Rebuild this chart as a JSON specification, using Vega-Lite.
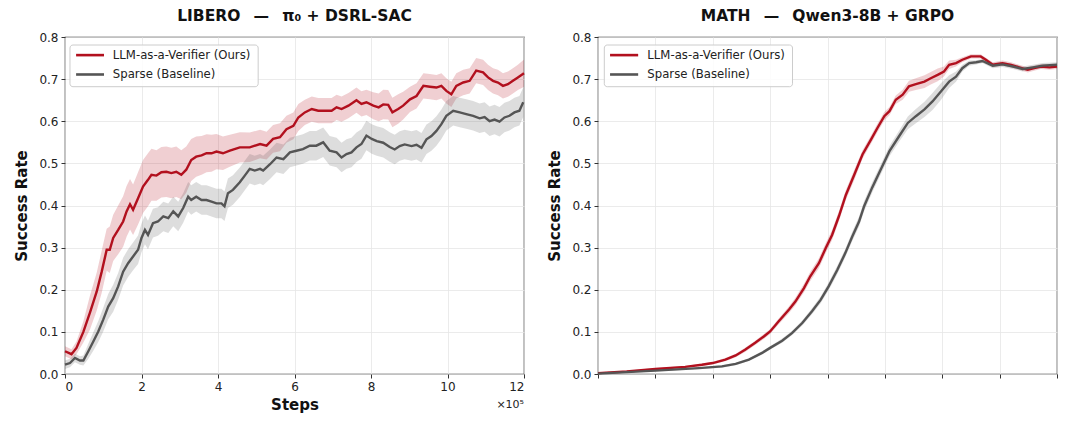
{
  "$schema": "https://vega.github.io/schema/vega-lite/v6.json",
  "padding": {"left": 14, "top": 7, "right": 5, "bottom": 5},
  "background": "white",
  "config": {
    "font": "DejaVu Sans",
    "view": {"stroke": "#333333", "strokeWidth": 1.2},
    "axis": {"domain": false, "grid": true, "gridColor": "#e6e6e6", "gridWidth": 0.8, "tickColor": "#333333", "tickSize": 4, "tickWidth": 1, "labelFontSize": 12, "labelColor": "#222222", "labelPadding": 3, "titleFontSize": 15, "titleFontWeight": "bold", "titleColor": "#111111"},
    "title": {"fontSize": 15.5, "fontWeight": "bold", "color": "#111111", "offset": 7}
  },
  "datasets": {
    "libero": [
      {"s":"ours","x":0,"y":0.054,"lo":0.042,"hi":0.066},
      {"s":"ours","x":0.17,"y":0.047,"lo":0.035,"hi":0.059},
      {"s":"ours","x":0.3,"y":0.062,"lo":0.047,"hi":0.077},
      {"s":"ours","x":0.48,"y":0.1,"lo":0.075,"hi":0.125},
      {"s":"ours","x":0.65,"y":0.145,"lo":0.105,"hi":0.185},
      {"s":"ours","x":0.83,"y":0.196,"lo":0.151,"hi":0.241},
      {"s":"ours","x":0.96,"y":0.243,"lo":0.193,"hi":0.293},
      {"s":"ours","x":1.09,"y":0.295,"lo":0.245,"hi":0.345},
      {"s":"ours","x":1.17,"y":0.295,"lo":0.24,"hi":0.35},
      {"s":"ours","x":1.26,"y":0.323,"lo":0.268,"hi":0.378},
      {"s":"ours","x":1.39,"y":0.342,"lo":0.284,"hi":0.4},
      {"s":"ours","x":1.52,"y":0.362,"lo":0.302,"hi":0.422},
      {"s":"ours","x":1.61,"y":0.386,"lo":0.326,"hi":0.446},
      {"s":"ours","x":1.7,"y":0.403,"lo":0.343,"hi":0.463},
      {"s":"ours","x":1.78,"y":0.39,"lo":0.33,"hi":0.45},
      {"s":"ours","x":1.91,"y":0.417,"lo":0.355,"hi":0.479},
      {"s":"ours","x":2.04,"y":0.445,"lo":0.382,"hi":0.508},
      {"s":"ours","x":2.17,"y":0.461,"lo":0.398,"hi":0.524},
      {"s":"ours","x":2.26,"y":0.473,"lo":0.411,"hi":0.535},
      {"s":"ours","x":2.39,"y":0.471,"lo":0.411,"hi":0.531},
      {"s":"ours","x":2.52,"y":0.479,"lo":0.419,"hi":0.539},
      {"s":"ours","x":2.65,"y":0.48,"lo":0.42,"hi":0.54},
      {"s":"ours","x":2.78,"y":0.477,"lo":0.417,"hi":0.537},
      {"s":"ours","x":2.91,"y":0.48,"lo":0.42,"hi":0.54},
      {"s":"ours","x":3.04,"y":0.473,"lo":0.415,"hi":0.531},
      {"s":"ours","x":3.17,"y":0.485,"lo":0.43,"hi":0.54},
      {"s":"ours","x":3.3,"y":0.508,"lo":0.458,"hi":0.558},
      {"s":"ours","x":3.43,"y":0.516,"lo":0.468,"hi":0.564},
      {"s":"ours","x":3.57,"y":0.519,"lo":0.473,"hi":0.565},
      {"s":"ours","x":3.7,"y":0.524,"lo":0.479,"hi":0.569},
      {"s":"ours","x":3.83,"y":0.524,"lo":0.48,"hi":0.568},
      {"s":"ours","x":3.96,"y":0.528,"lo":0.486,"hi":0.57},
      {"s":"ours","x":4.13,"y":0.524,"lo":0.484,"hi":0.564},
      {"s":"ours","x":4.31,"y":0.53,"lo":0.492,"hi":0.568},
      {"s":"ours","x":4.57,"y":0.538,"lo":0.502,"hi":0.574},
      {"s":"ours","x":4.83,"y":0.538,"lo":0.503,"hi":0.573},
      {"s":"ours","x":5.1,"y":0.546,"lo":0.512,"hi":0.58},
      {"s":"ours","x":5.27,"y":0.542,"lo":0.509,"hi":0.575},
      {"s":"ours","x":5.44,"y":0.558,"lo":0.525,"hi":0.591},
      {"s":"ours","x":5.62,"y":0.562,"lo":0.529,"hi":0.595},
      {"s":"ours","x":5.79,"y":0.581,"lo":0.549,"hi":0.613},
      {"s":"ours","x":5.97,"y":0.589,"lo":0.557,"hi":0.621},
      {"s":"ours","x":6.1,"y":0.609,"lo":0.577,"hi":0.641},
      {"s":"ours","x":6.27,"y":0.621,"lo":0.591,"hi":0.651},
      {"s":"ours","x":6.45,"y":0.629,"lo":0.599,"hi":0.659},
      {"s":"ours","x":6.62,"y":0.625,"lo":0.595,"hi":0.655},
      {"s":"ours","x":6.79,"y":0.625,"lo":0.595,"hi":0.655},
      {"s":"ours","x":6.97,"y":0.625,"lo":0.595,"hi":0.655},
      {"s":"ours","x":7.1,"y":0.633,"lo":0.603,"hi":0.663},
      {"s":"ours","x":7.23,"y":0.629,"lo":0.599,"hi":0.659},
      {"s":"ours","x":7.41,"y":0.637,"lo":0.607,"hi":0.667},
      {"s":"ours","x":7.62,"y":0.65,"lo":0.62,"hi":0.68},
      {"s":"ours","x":7.75,"y":0.641,"lo":0.611,"hi":0.671},
      {"s":"ours","x":7.88,"y":0.645,"lo":0.615,"hi":0.675},
      {"s":"ours","x":8.06,"y":0.637,"lo":0.605,"hi":0.669},
      {"s":"ours","x":8.2,"y":0.633,"lo":0.6,"hi":0.666},
      {"s":"ours","x":8.32,"y":0.64,"lo":0.605,"hi":0.675},
      {"s":"ours","x":8.45,"y":0.639,"lo":0.604,"hi":0.674},
      {"s":"ours","x":8.56,"y":0.621,"lo":0.586,"hi":0.656},
      {"s":"ours","x":8.71,"y":0.629,"lo":0.594,"hi":0.664},
      {"s":"ours","x":8.84,"y":0.637,"lo":0.604,"hi":0.67},
      {"s":"ours","x":9.02,"y":0.652,"lo":0.622,"hi":0.682},
      {"s":"ours","x":9.19,"y":0.66,"lo":0.63,"hi":0.69},
      {"s":"ours","x":9.37,"y":0.684,"lo":0.654,"hi":0.714},
      {"s":"ours","x":9.54,"y":0.682,"lo":0.652,"hi":0.712},
      {"s":"ours","x":9.71,"y":0.68,"lo":0.65,"hi":0.71},
      {"s":"ours","x":9.84,"y":0.684,"lo":0.654,"hi":0.714},
      {"s":"ours","x":9.97,"y":0.672,"lo":0.642,"hi":0.702},
      {"s":"ours","x":10.1,"y":0.664,"lo":0.634,"hi":0.694},
      {"s":"ours","x":10.23,"y":0.684,"lo":0.654,"hi":0.714},
      {"s":"ours","x":10.41,"y":0.692,"lo":0.662,"hi":0.722},
      {"s":"ours","x":10.58,"y":0.696,"lo":0.666,"hi":0.726},
      {"s":"ours","x":10.75,"y":0.72,"lo":0.69,"hi":0.75},
      {"s":"ours","x":10.93,"y":0.716,"lo":0.686,"hi":0.746},
      {"s":"ours","x":11.06,"y":0.704,"lo":0.674,"hi":0.734},
      {"s":"ours","x":11.19,"y":0.696,"lo":0.666,"hi":0.726},
      {"s":"ours","x":11.32,"y":0.692,"lo":0.662,"hi":0.722},
      {"s":"ours","x":11.45,"y":0.684,"lo":0.654,"hi":0.714},
      {"s":"ours","x":11.58,"y":0.688,"lo":0.658,"hi":0.718},
      {"s":"ours","x":11.71,"y":0.696,"lo":0.666,"hi":0.726},
      {"s":"ours","x":11.84,"y":0.704,"lo":0.674,"hi":0.734},
      {"s":"ours","x":11.97,"y":0.712,"lo":0.68,"hi":0.744},
      {"s":"ours","x":12,"y":0.714,"lo":0.682,"hi":0.746},
      {"s":"base","x":0,"y":0.022,"lo":0.012,"hi":0.032},
      {"s":"base","x":0.13,"y":0.026,"lo":0.016,"hi":0.036},
      {"s":"base","x":0.26,"y":0.038,"lo":0.028,"hi":0.048},
      {"s":"base","x":0.39,"y":0.032,"lo":0.022,"hi":0.042},
      {"s":"base","x":0.48,"y":0.032,"lo":0.02,"hi":0.044},
      {"s":"base","x":0.61,"y":0.054,"lo":0.036,"hi":0.072},
      {"s":"base","x":0.74,"y":0.077,"lo":0.055,"hi":0.099},
      {"s":"base","x":0.87,"y":0.101,"lo":0.076,"hi":0.126},
      {"s":"base","x":1,"y":0.129,"lo":0.101,"hi":0.157},
      {"s":"base","x":1.13,"y":0.16,"lo":0.13,"hi":0.19},
      {"s":"base","x":1.26,"y":0.18,"lo":0.148,"hi":0.212},
      {"s":"base","x":1.39,"y":0.208,"lo":0.176,"hi":0.24},
      {"s":"base","x":1.52,"y":0.243,"lo":0.21,"hi":0.276},
      {"s":"base","x":1.65,"y":0.263,"lo":0.23,"hi":0.296},
      {"s":"base","x":1.78,"y":0.279,"lo":0.246,"hi":0.312},
      {"s":"base","x":1.91,"y":0.295,"lo":0.261,"hi":0.329},
      {"s":"base","x":2,"y":0.323,"lo":0.289,"hi":0.357},
      {"s":"base","x":2.09,"y":0.342,"lo":0.308,"hi":0.376},
      {"s":"base","x":2.17,"y":0.33,"lo":0.296,"hi":0.364},
      {"s":"base","x":2.3,"y":0.358,"lo":0.324,"hi":0.392},
      {"s":"base","x":2.43,"y":0.362,"lo":0.328,"hi":0.396},
      {"s":"base","x":2.57,"y":0.374,"lo":0.339,"hi":0.409},
      {"s":"base","x":2.7,"y":0.37,"lo":0.335,"hi":0.405},
      {"s":"base","x":2.83,"y":0.386,"lo":0.351,"hi":0.421},
      {"s":"base","x":2.96,"y":0.374,"lo":0.339,"hi":0.409},
      {"s":"base","x":3.09,"y":0.394,"lo":0.359,"hi":0.429},
      {"s":"base","x":3.22,"y":0.421,"lo":0.386,"hi":0.456},
      {"s":"base","x":3.3,"y":0.413,"lo":0.378,"hi":0.448},
      {"s":"base","x":3.43,"y":0.421,"lo":0.386,"hi":0.456},
      {"s":"base","x":3.57,"y":0.413,"lo":0.378,"hi":0.448},
      {"s":"base","x":3.7,"y":0.413,"lo":0.378,"hi":0.448},
      {"s":"base","x":3.83,"y":0.409,"lo":0.374,"hi":0.444},
      {"s":"base","x":3.96,"y":0.405,"lo":0.37,"hi":0.44},
      {"s":"base","x":4.09,"y":0.405,"lo":0.37,"hi":0.44},
      {"s":"base","x":4.17,"y":0.398,"lo":0.363,"hi":0.433},
      {"s":"base","x":4.26,"y":0.429,"lo":0.394,"hi":0.464},
      {"s":"base","x":4.39,"y":0.437,"lo":0.402,"hi":0.472},
      {"s":"base","x":4.57,"y":0.455,"lo":0.42,"hi":0.49},
      {"s":"base","x":4.7,"y":0.471,"lo":0.436,"hi":0.506},
      {"s":"base","x":4.83,"y":0.487,"lo":0.452,"hi":0.522},
      {"s":"base","x":4.96,"y":0.483,"lo":0.448,"hi":0.518},
      {"s":"base","x":5.1,"y":0.487,"lo":0.452,"hi":0.522},
      {"s":"base","x":5.18,"y":0.483,"lo":0.448,"hi":0.518},
      {"s":"base","x":5.36,"y":0.498,"lo":0.463,"hi":0.533},
      {"s":"base","x":5.53,"y":0.514,"lo":0.479,"hi":0.549},
      {"s":"base","x":5.71,"y":0.51,"lo":0.475,"hi":0.545},
      {"s":"base","x":5.88,"y":0.526,"lo":0.491,"hi":0.561},
      {"s":"base","x":6.05,"y":0.53,"lo":0.495,"hi":0.565},
      {"s":"base","x":6.22,"y":0.534,"lo":0.499,"hi":0.569},
      {"s":"base","x":6.4,"y":0.542,"lo":0.507,"hi":0.577},
      {"s":"base","x":6.57,"y":0.542,"lo":0.507,"hi":0.577},
      {"s":"base","x":6.75,"y":0.55,"lo":0.515,"hi":0.585},
      {"s":"base","x":6.92,"y":0.53,"lo":0.495,"hi":0.565},
      {"s":"base","x":7.1,"y":0.526,"lo":0.491,"hi":0.561},
      {"s":"base","x":7.23,"y":0.514,"lo":0.479,"hi":0.549},
      {"s":"base","x":7.36,"y":0.522,"lo":0.487,"hi":0.557},
      {"s":"base","x":7.49,"y":0.526,"lo":0.491,"hi":0.561},
      {"s":"base","x":7.62,"y":0.538,"lo":0.503,"hi":0.573},
      {"s":"base","x":7.75,"y":0.546,"lo":0.511,"hi":0.581},
      {"s":"base","x":7.88,"y":0.566,"lo":0.531,"hi":0.601},
      {"s":"base","x":8.02,"y":0.558,"lo":0.523,"hi":0.593},
      {"s":"base","x":8.15,"y":0.553,"lo":0.518,"hi":0.588},
      {"s":"base","x":8.32,"y":0.549,"lo":0.514,"hi":0.584},
      {"s":"base","x":8.49,"y":0.539,"lo":0.504,"hi":0.574},
      {"s":"base","x":8.62,"y":0.533,"lo":0.498,"hi":0.568},
      {"s":"base","x":8.75,"y":0.541,"lo":0.506,"hi":0.576},
      {"s":"base","x":8.88,"y":0.545,"lo":0.51,"hi":0.58},
      {"s":"base","x":9.06,"y":0.541,"lo":0.506,"hi":0.576},
      {"s":"base","x":9.19,"y":0.544,"lo":0.509,"hi":0.579},
      {"s":"base","x":9.32,"y":0.537,"lo":0.502,"hi":0.572},
      {"s":"base","x":9.45,"y":0.557,"lo":0.522,"hi":0.592},
      {"s":"base","x":9.58,"y":0.565,"lo":0.53,"hi":0.6},
      {"s":"base","x":9.71,"y":0.577,"lo":0.542,"hi":0.612},
      {"s":"base","x":9.84,"y":0.593,"lo":0.558,"hi":0.628},
      {"s":"base","x":9.97,"y":0.613,"lo":0.578,"hi":0.648},
      {"s":"base","x":10.15,"y":0.625,"lo":0.59,"hi":0.66},
      {"s":"base","x":10.32,"y":0.621,"lo":0.586,"hi":0.656},
      {"s":"base","x":10.49,"y":0.617,"lo":0.582,"hi":0.652},
      {"s":"base","x":10.67,"y":0.613,"lo":0.578,"hi":0.648},
      {"s":"base","x":10.84,"y":0.607,"lo":0.572,"hi":0.642},
      {"s":"base","x":10.97,"y":0.61,"lo":0.575,"hi":0.645},
      {"s":"base","x":11.1,"y":0.6,"lo":0.565,"hi":0.635},
      {"s":"base","x":11.23,"y":0.604,"lo":0.569,"hi":0.639},
      {"s":"base","x":11.36,"y":0.599,"lo":0.564,"hi":0.634},
      {"s":"base","x":11.49,"y":0.609,"lo":0.574,"hi":0.644},
      {"s":"base","x":11.62,"y":0.613,"lo":0.578,"hi":0.648},
      {"s":"base","x":11.75,"y":0.621,"lo":0.586,"hi":0.656},
      {"s":"base","x":11.88,"y":0.625,"lo":0.59,"hi":0.66},
      {"s":"base","x":11.98,"y":0.645,"lo":0.61,"hi":0.68}
    ],
    "math": [
      {"s":"ours","x":0,"y":0.002,"lo":0,"hi":0.004},
      {"s":"ours","x":0.5,"y":0.006,"lo":0.004,"hi":0.008},
      {"s":"ours","x":1,"y":0.012,"lo":0.01,"hi":0.014},
      {"s":"ours","x":1.52,"y":0.017,"lo":0.015,"hi":0.019},
      {"s":"ours","x":1.81,"y":0.022,"lo":0.019,"hi":0.025},
      {"s":"ours","x":2,"y":0.026,"lo":0.023,"hi":0.029},
      {"s":"ours","x":2.22,"y":0.034,"lo":0.03,"hi":0.038},
      {"s":"ours","x":2.4,"y":0.044,"lo":0.04,"hi":0.048},
      {"s":"ours","x":2.57,"y":0.058,"lo":0.053,"hi":0.063},
      {"s":"ours","x":2.74,"y":0.074,"lo":0.069,"hi":0.079},
      {"s":"ours","x":2.89,"y":0.089,"lo":0.083,"hi":0.095},
      {"s":"ours","x":3,"y":0.101,"lo":0.095,"hi":0.107},
      {"s":"ours","x":3.15,"y":0.125,"lo":0.118,"hi":0.132},
      {"s":"ours","x":3.33,"y":0.153,"lo":0.145,"hi":0.161},
      {"s":"ours","x":3.44,"y":0.172,"lo":0.163,"hi":0.181},
      {"s":"ours","x":3.59,"y":0.204,"lo":0.194,"hi":0.214},
      {"s":"ours","x":3.7,"y":0.232,"lo":0.221,"hi":0.243},
      {"s":"ours","x":3.85,"y":0.263,"lo":0.251,"hi":0.275},
      {"s":"ours","x":3.97,"y":0.299,"lo":0.287,"hi":0.311},
      {"s":"ours","x":4.08,"y":0.33,"lo":0.318,"hi":0.342},
      {"s":"ours","x":4.2,"y":0.375,"lo":0.363,"hi":0.387},
      {"s":"ours","x":4.32,"y":0.425,"lo":0.413,"hi":0.437},
      {"s":"ours","x":4.47,"y":0.474,"lo":0.462,"hi":0.486},
      {"s":"ours","x":4.61,"y":0.521,"lo":0.511,"hi":0.531},
      {"s":"ours","x":4.76,"y":0.557,"lo":0.547,"hi":0.567},
      {"s":"ours","x":4.87,"y":0.584,"lo":0.574,"hi":0.594},
      {"s":"ours","x":4.99,"y":0.612,"lo":0.602,"hi":0.622},
      {"s":"ours","x":5.08,"y":0.624,"lo":0.614,"hi":0.634},
      {"s":"ours","x":5.19,"y":0.651,"lo":0.641,"hi":0.661},
      {"s":"ours","x":5.31,"y":0.663,"lo":0.651,"hi":0.675},
      {"s":"ours","x":5.42,"y":0.683,"lo":0.67,"hi":0.696},
      {"s":"ours","x":5.54,"y":0.688,"lo":0.674,"hi":0.702},
      {"s":"ours","x":5.69,"y":0.694,"lo":0.679,"hi":0.709},
      {"s":"ours","x":5.8,"y":0.702,"lo":0.687,"hi":0.717},
      {"s":"ours","x":5.92,"y":0.71,"lo":0.695,"hi":0.725},
      {"s":"ours","x":6.03,"y":0.718,"lo":0.706,"hi":0.73},
      {"s":"ours","x":6.12,"y":0.734,"lo":0.724,"hi":0.744},
      {"s":"ours","x":6.24,"y":0.738,"lo":0.73,"hi":0.746},
      {"s":"ours","x":6.35,"y":0.746,"lo":0.74,"hi":0.752},
      {"s":"ours","x":6.5,"y":0.754,"lo":0.749,"hi":0.759},
      {"s":"ours","x":6.67,"y":0.754,"lo":0.749,"hi":0.759},
      {"s":"ours","x":6.76,"y":0.746,"lo":0.741,"hi":0.751},
      {"s":"ours","x":6.88,"y":0.734,"lo":0.728,"hi":0.74},
      {"s":"ours","x":7.05,"y":0.738,"lo":0.732,"hi":0.744},
      {"s":"ours","x":7.2,"y":0.734,"lo":0.728,"hi":0.74},
      {"s":"ours","x":7.34,"y":0.728,"lo":0.722,"hi":0.734},
      {"s":"ours","x":7.49,"y":0.722,"lo":0.716,"hi":0.728},
      {"s":"ours","x":7.6,"y":0.726,"lo":0.72,"hi":0.732},
      {"s":"ours","x":7.72,"y":0.73,"lo":0.724,"hi":0.736},
      {"s":"ours","x":7.87,"y":0.728,"lo":0.722,"hi":0.734},
      {"s":"ours","x":8,"y":0.73,"lo":0.724,"hi":0.736},
      {"s":"base","x":0,"y":0.001,"lo":0,"hi":0.002},
      {"s":"base","x":1,"y":0.008,"lo":0.006,"hi":0.01},
      {"s":"base","x":1.76,"y":0.014,"lo":0.012,"hi":0.016},
      {"s":"base","x":2.16,"y":0.018,"lo":0.015,"hi":0.021},
      {"s":"base","x":2.4,"y":0.024,"lo":0.021,"hi":0.027},
      {"s":"base","x":2.63,"y":0.034,"lo":0.031,"hi":0.037},
      {"s":"base","x":2.86,"y":0.05,"lo":0.046,"hi":0.054},
      {"s":"base","x":3,"y":0.062,"lo":0.058,"hi":0.066},
      {"s":"base","x":3.21,"y":0.079,"lo":0.074,"hi":0.084},
      {"s":"base","x":3.38,"y":0.097,"lo":0.092,"hi":0.102},
      {"s":"base","x":3.56,"y":0.121,"lo":0.115,"hi":0.127},
      {"s":"base","x":3.73,"y":0.149,"lo":0.142,"hi":0.156},
      {"s":"base","x":3.88,"y":0.176,"lo":0.168,"hi":0.184},
      {"s":"base","x":4.02,"y":0.208,"lo":0.199,"hi":0.217},
      {"s":"base","x":4.17,"y":0.247,"lo":0.237,"hi":0.257},
      {"s":"base","x":4.31,"y":0.287,"lo":0.277,"hi":0.297},
      {"s":"base","x":4.43,"y":0.326,"lo":0.315,"hi":0.337},
      {"s":"base","x":4.55,"y":0.362,"lo":0.35,"hi":0.374},
      {"s":"base","x":4.64,"y":0.399,"lo":0.387,"hi":0.411},
      {"s":"base","x":4.78,"y":0.443,"lo":0.431,"hi":0.455},
      {"s":"base","x":4.93,"y":0.486,"lo":0.474,"hi":0.498},
      {"s":"base","x":5.08,"y":0.529,"lo":0.517,"hi":0.541},
      {"s":"base","x":5.25,"y":0.565,"lo":0.552,"hi":0.578},
      {"s":"base","x":5.4,"y":0.596,"lo":0.581,"hi":0.611},
      {"s":"base","x":5.54,"y":0.612,"lo":0.595,"hi":0.629},
      {"s":"base","x":5.69,"y":0.628,"lo":0.61,"hi":0.646},
      {"s":"base","x":5.83,"y":0.647,"lo":0.627,"hi":0.667},
      {"s":"base","x":5.98,"y":0.671,"lo":0.651,"hi":0.691},
      {"s":"base","x":6.12,"y":0.694,"lo":0.679,"hi":0.709},
      {"s":"base","x":6.24,"y":0.706,"lo":0.694,"hi":0.718},
      {"s":"base","x":6.35,"y":0.726,"lo":0.718,"hi":0.734},
      {"s":"base","x":6.47,"y":0.738,"lo":0.732,"hi":0.744},
      {"s":"base","x":6.59,"y":0.74,"lo":0.735,"hi":0.745},
      {"s":"base","x":6.7,"y":0.743,"lo":0.738,"hi":0.748},
      {"s":"base","x":6.88,"y":0.732,"lo":0.726,"hi":0.738},
      {"s":"base","x":7.05,"y":0.735,"lo":0.729,"hi":0.741},
      {"s":"base","x":7.23,"y":0.73,"lo":0.724,"hi":0.736},
      {"s":"base","x":7.4,"y":0.724,"lo":0.718,"hi":0.73},
      {"s":"base","x":7.58,"y":0.728,"lo":0.722,"hi":0.734},
      {"s":"base","x":7.75,"y":0.732,"lo":0.726,"hi":0.738},
      {"s":"base","x":8,"y":0.734,"lo":0.728,"hi":0.74}
    ]
  },
  "spacing": 17,
  "hconcat": [
    {
      "width": 459,
      "height": 337,
      "title": {"text": "LIBERO \u2002—\u2002 π₀ + DSRL-SAC"},
      "layer": [
        {
          "data": {"name": "libero"},
          "mark": {"type": "area", "opacity": 0.2},
          "encoding": {
            "x": {"field": "x", "type": "quantitative", "scale": {"domain": [0, 12], "nice": false}, "axis": {"values": [0, 2, 4, 6, 8, 10, 12], "format": "d", "title": "Steps", "titlePadding": 5}},
            "y": {"field": "lo", "type": "quantitative", "scale": {"domain": [0, 0.8], "nice": false}, "axis": {"values": [0, 0.1, 0.2, 0.3, 0.4, 0.5, 0.6, 0.7, 0.8], "format": ".1f", "title": "Success Rate", "titlePadding": 9}},
            "y2": {"field": "hi"},
            "fill": {"field": "s", "type": "nominal", "scale": {"domain": ["ours", "base"], "range": ["#b2101e", "#555555"]}, "legend": null}
          }
        },
        {
          "data": {"name": "libero"},
          "mark": {"type": "line", "strokeWidth": 2.4},
          "encoding": {
            "x": {"field": "x", "type": "quantitative"},
            "y": {"field": "y", "type": "quantitative"},
            "stroke": {"field": "s", "type": "nominal", "scale": {"domain": ["ours", "base"], "range": ["#b2101e", "#555555"]}, "legend": null}
          }
        },
        {
          "data": {"values": [{"part": "legend frame"}]},
          "mark": {"type": "rect", "fill": "white", "fillOpacity": 0.85, "stroke": "#cccccc", "strokeWidth": 1, "cornerRadius": 3},
          "encoding": {"x": {"datum": 0.13}, "x2": {"datum": 5.05}, "y": {"datum": 0.682}, "y2": {"datum": 0.781}}
        },
        {
          "data": {"values": [{"s": "ours"}]},
          "mark": {"type": "rule", "strokeWidth": 2.6, "color": "#b2101e"},
          "encoding": {"x": {"datum": 0.29}, "x2": {"datum": 1.02}, "y": {"datum": 0.757}}
        },
        {
          "data": {"values": [{"s": "base"}]},
          "mark": {"type": "rule", "strokeWidth": 2.6, "color": "#555555"},
          "encoding": {"x": {"datum": 0.29}, "x2": {"datum": 1.02}, "y": {"datum": 0.711}}
        },
        {
          "data": {"values": [{"label": "LLM-as-a-Verifier (Ours)"}]},
          "mark": {"type": "text", "align": "left", "baseline": "middle", "fontSize": 11.7, "color": "#222222"},
          "encoding": {"x": {"datum": 1.25}, "y": {"datum": 0.757}, "text": {"field": "label"}}
        },
        {
          "data": {"values": [{"label": "Sparse (Baseline)"}]},
          "mark": {"type": "text", "align": "left", "baseline": "middle", "fontSize": 11.7, "color": "#222222"},
          "encoding": {"x": {"datum": 1.25}, "y": {"datum": 0.711}, "text": {"field": "label"}}
        },
        {
          "data": {"values": [{"note": "x10^5"}]},
          "mark": {"type": "text", "text": "×10⁵", "align": "right", "baseline": "middle", "dy": 31, "fontSize": 11, "color": "#222222"},
          "encoding": {"x": {"datum": 12}, "y": {"datum": 0}}
        }
      ]
    },
    {
      "width": 459,
      "height": 337,
      "title": {"text": "MATH \u2002—\u2002 Qwen3-8B + GRPO"},
      "layer": [
        {
          "data": {"name": "math"},
          "mark": {"type": "area", "opacity": 0.2},
          "encoding": {
            "x": {"field": "x", "type": "quantitative", "scale": {"domain": [0, 8], "nice": false}, "axis": {"values": [0, 1, 2, 3, 4, 5, 6, 7, 8], "labels": false, "title": null}},
            "y": {"field": "lo", "type": "quantitative", "scale": {"domain": [0, 0.8], "nice": false}, "axis": {"values": [0, 0.1, 0.2, 0.3, 0.4, 0.5, 0.6, 0.7, 0.8], "format": ".1f", "title": "Success Rate", "titlePadding": 9}},
            "y2": {"field": "hi"},
            "fill": {"field": "s", "type": "nominal", "scale": {"domain": ["ours", "base"], "range": ["#b2101e", "#555555"]}, "legend": null}
          }
        },
        {
          "data": {"name": "math"},
          "mark": {"type": "line", "strokeWidth": 2.4},
          "encoding": {
            "x": {"field": "x", "type": "quantitative"},
            "y": {"field": "y", "type": "quantitative"},
            "stroke": {"field": "s", "type": "nominal", "scale": {"domain": ["ours", "base"], "range": ["#b2101e", "#555555"]}, "legend": null}
          }
        },
        {
          "data": {"values": [{"part": "legend frame"}]},
          "mark": {"type": "rect", "fill": "white", "fillOpacity": 0.85, "stroke": "#cccccc", "strokeWidth": 1, "cornerRadius": 3},
          "encoding": {"x": {"datum": 0.11}, "x2": {"datum": 3.39}, "y": {"datum": 0.682}, "y2": {"datum": 0.781}}
        },
        {
          "data": {"values": [{"s": "ours"}]},
          "mark": {"type": "rule", "strokeWidth": 2.6, "color": "#b2101e"},
          "encoding": {"x": {"datum": 0.21}, "x2": {"datum": 0.7}, "y": {"datum": 0.757}}
        },
        {
          "data": {"values": [{"s": "base"}]},
          "mark": {"type": "rule", "strokeWidth": 2.6, "color": "#555555"},
          "encoding": {"x": {"datum": 0.21}, "x2": {"datum": 0.7}, "y": {"datum": 0.711}}
        },
        {
          "data": {"values": [{"label": "LLM-as-a-Verifier (Ours)"}]},
          "mark": {"type": "text", "align": "left", "baseline": "middle", "fontSize": 11.7, "color": "#222222"},
          "encoding": {"x": {"datum": 0.86}, "y": {"datum": 0.757}, "text": {"field": "label"}}
        },
        {
          "data": {"values": [{"label": "Sparse (Baseline)"}]},
          "mark": {"type": "text", "align": "left", "baseline": "middle", "fontSize": 11.7, "color": "#222222"},
          "encoding": {"x": {"datum": 0.86}, "y": {"datum": 0.711}, "text": {"field": "label"}}
        }
      ]
    }
  ]
}
